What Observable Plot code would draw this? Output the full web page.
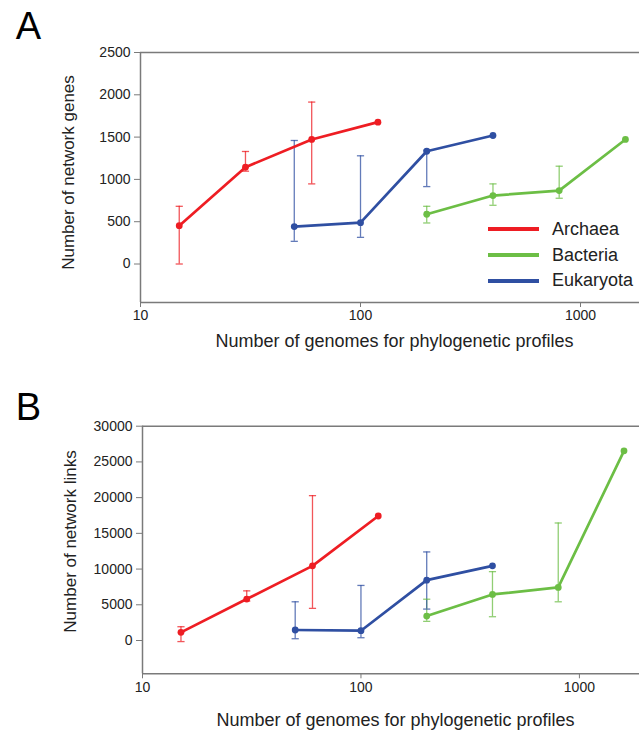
<!DOCTYPE html>
<html>
<head>
<meta charset="utf-8">
<script src="https://cdn.jsdelivr.net/npm/d3@7"></script>
<script src="https://cdn.jsdelivr.net/npm/@observablehq/plot@0.6"></script>
<style>
  html, body { margin: 0; padding: 0; background: #fff; }
  body { font-family: Arial, "Liberation Sans", sans-serif; }
  #wrap { position: relative; width: 639px; height: 730px; overflow: hidden; }
  #wrap svg { display: block; }
  .legend { position: absolute; left: 488px; top: 216.5px; color: #222; font-size: 18px; }
  .legend .row { display: flex; align-items: center; height: 25.7px; white-space: nowrap; }
  .legend .sw { width: 51px; height: 4px; margin-right: 13px; }
</style>
</head>
<body>
<div id="wrap"></div>
<script>
// ---- data ----
const seriesNames = ["Archaea", "Bacteria", "Eukaryota"];
const seriesColors = ["#EE1D23", "#6CBE45", "#2F4FA2"];

const archaeaX = [15, 30, 60, 120];
const bacteriaX = [200, 400, 800, 1600];
const eukaryotaX = [50, 100, 200, 400];

// Panel A: number of network genes
const archaeaGenes = [453, 1144, 1472, 1677];
const archaeaGenesLo = [0, 1097, 947, null];
const archaeaGenesHi = [682, 1330, 1914, null];
const bacteriaGenes = [588, 809, 868, 1472];
const bacteriaGenesLo = [485, 694, 777, null];
const bacteriaGenesHi = [682, 947, 1156, null];
const eukaryotaGenes = [442, 489, 1333, 1519];
const eukaryotaGenesLo = [268, 315, 915, null];
const eukaryotaGenesHi = [1460, 1279, 1345, null];

// Panel B: number of network links
const archaeaLinks = [1145, 5800, 10450, 17430];
const archaeaLinksLo = [-150, 5520, 4500, null];
const archaeaLinksHi = [1930, 6950, 20280, null];
const bacteriaLinks = [3420, 6450, 7430, 26550];
const bacteriaLinksLo = [2680, 3330, 5420, null];
const bacteriaLinksHi = [5780, 9640, 16450, null];
const eukaryotaLinks = [1470, 1370, 8450, 10450];
const eukaryotaLinksLo = [250, 390, 4400, null];
const eukaryotaLinksHi = [5420, 7710, 12400, null];

const xTicks = [10, 100, 1000];
const genesTicks = [0, 500, 1000, 1500, 2000, 2500];
const linksTicks = [0, 5000, 10000, 15000, 20000, 25000, 30000];

const xTitle = "Number of genomes for phylogenetic profiles";
const genesTitle = "Number of network genes";
const linksTitle = "Number of network links";

// ---- build tables ----
function rows(name, xs, ys, lo, hi) {
  return xs.map((x, i) => ({series: name, x, y: ys[i], lo: lo[i], hi: hi[i]}));
}
const genesData = [
  ...rows("Archaea", archaeaX, archaeaGenes, archaeaGenesLo, archaeaGenesHi),
  ...rows("Bacteria", bacteriaX, bacteriaGenes, bacteriaGenesLo, bacteriaGenesHi),
  ...rows("Eukaryota", eukaryotaX, eukaryotaGenes, eukaryotaGenesLo, eukaryotaGenesHi)
];
const linksData = [
  ...rows("Archaea", archaeaX, archaeaLinks, archaeaLinksLo, archaeaLinksHi),
  ...rows("Bacteria", bacteriaX, bacteriaLinks, bacteriaLinksLo, bacteriaLinksHi),
  ...rows("Eukaryota", eukaryotaX, eukaryotaLinks, eukaryotaLinksLo, eukaryotaLinksHi)
];

const gray = "#7a7a7a";
const capSymbol = { draw(ctx) { ctx.moveTo(-3.6, 0); ctx.lineTo(3.6, 0); } };

function panel(o) {
  const err = o.data.filter(d => d.lo != null);
  return Plot.plot({
    width: 639, height: 365,
    marginLeft: o.marginLeft, marginRight: 0, marginTop: o.marginTop, marginBottom: o.marginBottom,
    style: { fontFamily: 'Arial, "Liberation Sans", sans-serif', background: "white", color: "#222", overflow: "visible" },
    x: { type: "log", domain: [10, o.xMax] },
    y: { domain: o.yDomain },
    color: { domain: seriesNames, range: seriesColors },
    marks: [
      Plot.ruleY([o.yDomain[0]], { stroke: gray, strokeWidth: 1.5 }),
      Plot.ruleY([o.yDomain[1]], { stroke: gray, strokeWidth: 1.5 }),
      Plot.ruleX([10], { stroke: gray, strokeWidth: 1.5 }),
      Plot.axisX({ ticks: xTicks, tickFormat: d => String(d), tickSize: 5, tickPadding: 3, fontSize: 14, stroke: gray, label: null }),
      Plot.axisY({ ticks: o.yTicks, tickFormat: d => String(d), tickSize: 6, tickPadding: 4, fontSize: 14, stroke: gray, label: null }),
      Plot.ruleX(err, { x: "x", y1: "lo", y2: "hi", stroke: "series", strokeWidth: 1.3, strokeOpacity: 0.75 }),
      Plot.dot(err, { x: "x", y: "lo", symbol: capSymbol, stroke: "series", strokeWidth: 1.3, strokeOpacity: 0.75, fill: "none" }),
      Plot.dot(err, { x: "x", y: "hi", symbol: capSymbol, stroke: "series", strokeWidth: 1.3, strokeOpacity: 0.75, fill: "none" }),
      Plot.line(o.data, { x: "x", y: "y", z: "series", stroke: "series", strokeWidth: 2.7 }),
      Plot.dot(o.data, { x: "x", y: "y", fill: "series", r: 3.4 }),
      Plot.text([o.yTitle], { text: d => d, frameAnchor: "left", textAnchor: "middle", lineAnchor: "middle", dx: -72, dy: o.yTitleDy, rotate: -90, fontSize: 17, fill: "#222" }),
      Plot.text([xTitle], { text: d => d, frameAnchor: "bottom", textAnchor: "middle", lineAnchor: "middle", dx: 4.5, dy: o.xTitleDy, fontSize: 18, fill: "#222" }),
      Plot.text([o.letter], { text: d => d, frameAnchor: "top-left", textAnchor: "middle", lineAnchor: "middle", dx: 28 - o.marginLeft, dy: o.letterDy, fontSize: 38, fill: "#000" })
    ]
  });
}

const wrap = document.getElementById("wrap");
wrap.append(panel({
  data: genesData, yDomain: [-455, 2500], yTicks: genesTicks, yTitle: genesTitle, letter: "A",
  marginLeft: 140, marginTop: 52, marginBottom: 63, xMax: 1854,
  yTitleDy: -5, xTitleDy: 39, letterDy: -26
}));
wrap.append(panel({
  data: linksData, yDomain: [-4660, 30000], yTicks: linksTicks, yTitle: linksTitle, letter: "B",
  marginLeft: 142, marginTop: 60.7, marginBottom: 56.7, xMax: 1884,
  yTitleDy: -8.5, xTitleDy: 46.7, letterDy: -18
}));

// legend
const legend = document.createElement("div");
legend.className = "legend";
seriesNames.forEach((name, i) => {
  const row = document.createElement("div");
  row.className = "row";
  const sw = document.createElement("span");
  sw.className = "sw";
  sw.style.background = seriesColors[i];
  const label = document.createElement("span");
  label.textContent = name;
  row.append(sw, label);
  legend.append(row);
});
wrap.append(legend);
</script>
</body>
</html>
